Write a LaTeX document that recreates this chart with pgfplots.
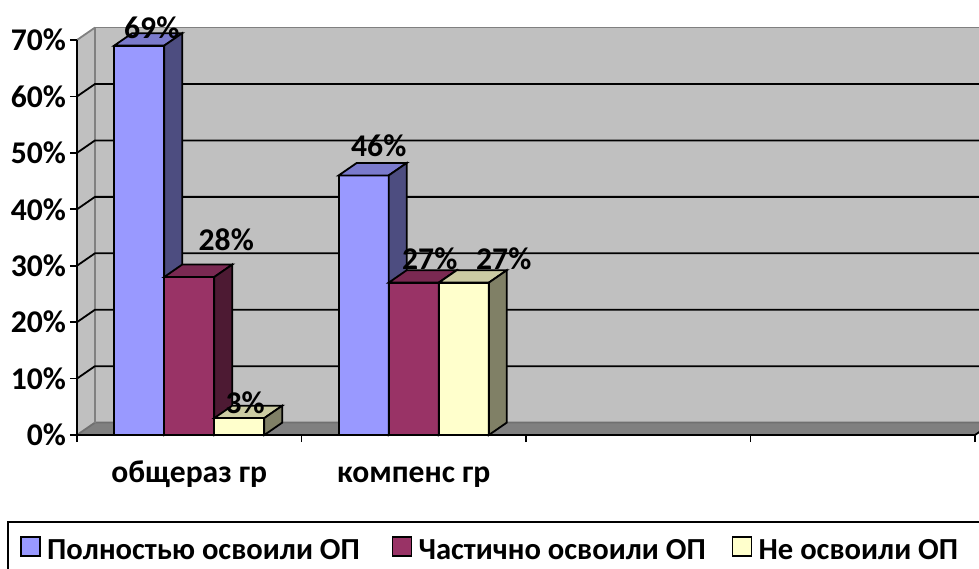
\documentclass[border=0pt]{standalone}
\usepackage{fontspec}
\setmainfont{Carlito}
\usepackage{pgfplots}
\usepackage{pgfplotstable}
\pgfplotsset{compat=1.18}
\definecolor{wallc}{HTML}{C0C0C0}
\definecolor{floorc}{HTML}{808080}
\definecolor{edgec}{HTML}{707070}
\definecolor{bluef}{HTML}{9999FF}
\definecolor{bluet}{HTML}{7A7ACC}
\definecolor{blues}{HTML}{4D4D80}
\definecolor{redf}{HTML}{993366}
\definecolor{redt}{HTML}{7A2952}
\definecolor{reds}{HTML}{4D1A33}
\definecolor{yelf}{HTML}{FFFFCC}
\definecolor{yelt}{HTML}{CCCCA3}
\definecolor{yels}{HTML}{808066}

% x = group centre, y = value, lx/ly = label offset (pt) from the group centre at the bar top
\pgfplotstableread{
x y lx ly
0.5 69 -18.75 9
1.5 46 -17.5 15
}\bluetab
\pgfplotstableread{
x y lx ly
0.5 28 18.5 18.5
1.5 27 8 12
}\redtab
\pgfplotstableread{
x y lx ly
0.5 3 28 7.5
1.5 27 45 12
}\yeltab

\newcommand{\lblfont}{\fontsize{15.8}{18}\selectfont\bfseries}
\newcommand{\legfont}{\fontsize{15.3}{18}\selectfont\bfseries}

\pgfplotsset{
  lg/.style={legend image code/.code={\path[draw=none, fill=none] (0pt,-2.5pt) rectangle (11pt,7pt); \draw[##1, draw=black, line width=0.8pt] (0pt,-2.5pt) rectangle (9.5pt,7pt);}},
  lab/.style={
    nodes near coords={\pgfmathprintnumber{\pgfplotspointmeta}\%},
    visualization depends on={\thisrow{lx} \as \lx},
    visualization depends on={\thisrow{ly} \as \ly},
    every node near coord/.append style={font=\lblfont, anchor=center, xshift=\lx pt, yshift=\ly pt}},
  face/.style={draw=black, line width=0.9pt, forget plot},
}

\begin{document}
\begin{tikzpicture}
\begin{axis}[
  set layers,
  scale only axis,
  width=449pt, height=197.5pt,
  xmin=0, xmax=4, ymin=0, ymax=70,
  clip=false,
  axis line style={draw=none},
  tick pos=left,
  tick align=outside,
  tick style={black, line width=0.9pt},
  major tick length=3.5pt,
  ytick={0,10,20,30,40,50,60,70},
  yticklabels={0\%,10\%,20\%,30\%,40\%,50\%,60\%,70\%},
  yticklabel style={font=\lblfont, anchor=east, xshift=1.5pt},
  xtick={0,1,2,3,4},
  xticklabels={,,,,},
  extra x ticks={0.5,1.5},
  extra x tick labels={общераз гр,компенс гр},
  extra x tick style={major tick length=0pt, xticklabel style={font=\lblfont, anchor=base, yshift=-23.5pt}},
  /pgf/number format/assume math mode=true,
  legend style={at={(0,0)}, anchor=north west, xshift=-30.5pt, yshift=-44pt,
    draw=none, fill=none, font=\legfont, legend columns=3,
    inner xsep=2pt, inner ysep=6pt,
    /tikz/column 2/.style={column sep=14pt},
    /tikz/column 4/.style={column sep=11pt}},
  legend cell align=left,
]
\begin{pgfonlayer}{axis background}
  \fill[wallc] (axis cs:0.08,2.2) -- (axis cs:4.08,2.2) -- (axis cs:4.08,72.2) -- (axis cs:0.08,72.2) -- cycle;
  \fill[wallc] (axis cs:0,0) -- (axis cs:0.08,2.2) -- (axis cs:0.08,72.2) -- (axis cs:0,70) -- cycle;
  \fill[floorc] (axis cs:0,0) -- (axis cs:0.08,2.2) -- (axis cs:4.08,2.2) -- (axis cs:4,0) -- cycle;
  \draw[edgec, line width=0.9pt] (axis cs:0,0) -- (axis cs:0.08,2.2) -- (axis cs:4.08,2.2);
  \draw[floorc, line width=0.9pt] (axis cs:0.08,2.2) -- (axis cs:0.08,72.2) -- (axis cs:4.08,72.2);
  \draw[floorc, line width=0.9pt] (axis cs:0,70) -- (axis cs:0.08,72.2);
  \draw[black, line width=0.9pt] (axis cs:0,10) -- (axis cs:0.08,12.2) -- (axis cs:4.08,12.2);
  \draw[black, line width=0.9pt] (axis cs:0,20) -- (axis cs:0.08,22.2) -- (axis cs:4.08,22.2);
  \draw[black, line width=0.9pt] (axis cs:0,30) -- (axis cs:0.08,32.2) -- (axis cs:4.08,32.2);
  \draw[black, line width=0.9pt] (axis cs:0,40) -- (axis cs:0.08,42.2) -- (axis cs:4.08,42.2);
  \draw[black, line width=0.9pt] (axis cs:0,50) -- (axis cs:0.08,52.2) -- (axis cs:4.08,52.2);
  \draw[black, line width=0.9pt] (axis cs:0,60) -- (axis cs:0.08,62.2) -- (axis cs:4.08,62.2);
  \draw[black, line width=0.9pt] (axis cs:0,70) -- (axis cs:0,0) -- (axis cs:4,0) -- (axis cs:4.08,2.2);
\end{pgfonlayer}
\coordinate (O) at (axis cs:0,0);

% blue
\addplot[ybar, bar width=0.223, bar shift=-0.223, fill=bluef, draw=black, line width=0.9pt, lg, lab] table[x=x,y=y] {\bluetab};
\addlegendentry{Полностью освоили ОП}
\addplot[fill=bluet, face] coordinates {(0.1655,69) (0.3885,69) (0.4685,71.2) (0.2455,71.2)} -- cycle;
\addplot[fill=blues, face] coordinates {(0.3885,0) (0.4685,2.2) (0.4685,71.2) (0.3885,69)} -- cycle;
\addplot[fill=bluet, face] coordinates {(1.1655,46) (1.3885,46) (1.4685,48.2) (1.2455,48.2)} -- cycle;
\addplot[fill=blues, face] coordinates {(1.3885,0) (1.4685,2.2) (1.4685,48.2) (1.3885,46)} -- cycle;

% red
\addplot[ybar, bar width=0.223, bar shift=0, fill=redf, draw=black, line width=0.9pt, lg, lab] table[x=x,y=y] {\redtab};
\addlegendentry{Частично освоили ОП}
\addplot[fill=redt, face] coordinates {(0.3885,28) (0.6115,28) (0.6915,30.2) (0.4685,30.2)} -- cycle;
\addplot[fill=reds, face] coordinates {(0.6115,0) (0.6915,2.2) (0.6915,30.2) (0.6115,28)} -- cycle;
\addplot[fill=redt, face] coordinates {(1.3885,27) (1.6115,27) (1.6915,29.2) (1.4685,29.2)} -- cycle;
\addplot[fill=reds, face] coordinates {(1.6115,0) (1.6915,2.2) (1.6915,29.2) (1.6115,27)} -- cycle;

% yellow
\addplot[ybar, bar width=0.223, bar shift=0.223, fill=yelf, draw=black, line width=0.9pt, lg, lab] table[x=x,y=y] {\yeltab};
\addlegendentry{Не освоили ОП}
\addplot[fill=yelt, face] coordinates {(0.6115,3) (0.8345,3) (0.9145,5.2) (0.6915,5.2)} -- cycle;
\addplot[fill=yels, face] coordinates {(0.8345,0) (0.9145,2.2) (0.9145,5.2) (0.8345,3)} -- cycle;
\addplot[fill=yelt, face] coordinates {(1.6115,27) (1.8345,27) (1.9145,29.2) (1.6915,29.2)} -- cycle;
\addplot[fill=yels, face] coordinates {(1.8345,0) (1.9145,2.2) (1.9145,29.2) (1.8345,27)} -- cycle;
\end{axis}
\draw[black, line width=0.9pt] ([shift={(-34.5pt,-43.5pt)}]O) rectangle ([shift={(456.5pt,-72.5pt)}]O);
\pgfresetboundingbox
\path[use as bounding box] ([shift={(-38.5pt,-66.5pt)}]O) rectangle ([shift={(451pt,217.5pt)}]O);
\end{tikzpicture}
\end{document}
